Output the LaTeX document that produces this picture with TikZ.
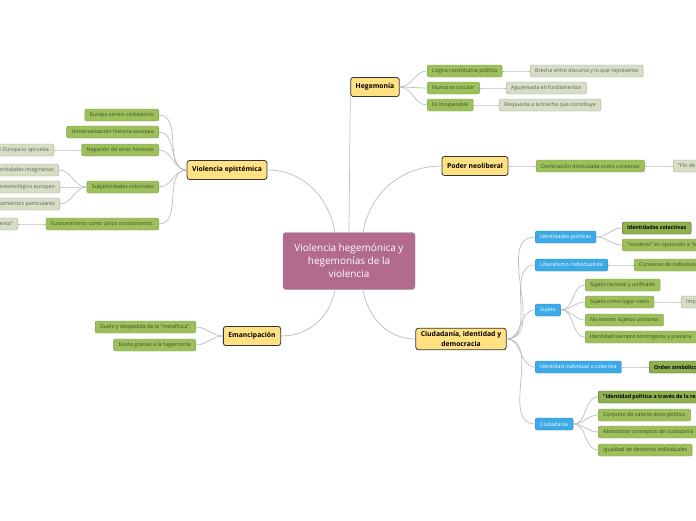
\documentclass[tikz,border=0pt]{standalone}
\usepackage{fontspec}
\setmainfont{Open Sans}
\usetikzlibrary{positioning}

\definecolor{mainfill}{HTML}{B26A8D}
\definecolor{topicfill}{HTML}{FFE184}
\definecolor{leaffill}{HTML}{9DC05C}
\definecolor{leafdraw}{HTML}{7F9D4A}
\definecolor{leaftext}{HTML}{3D4A24}
\definecolor{strongfill}{HTML}{8FB050}
\definecolor{strongdraw}{HTML}{4B5A2C}
\definecolor{notefill}{HTML}{D6DEC6}
\definecolor{notedraw}{HTML}{A5AF95}
\definecolor{notetext}{HTML}{5B6052}
\definecolor{bluefill}{HTML}{3DAAE8}
\definecolor{linkgray}{HTML}{BEBEBE}

\begin{document}
\begin{tikzpicture}[
    x=1pt, y=-1pt,
    main/.style = {rectangle, rounded corners=3pt, minimum width=132pt, minimum height=57pt,
                   align=center, draw=gray!80, fill=mainfill, text=white, font=\fontsize{10}{13}\selectfont},
    topic/.style = {rectangle, rounded corners=2.5pt, minimum height=19pt, inner xsep=5pt,
                    draw=black!80, fill=topicfill, font=\fontsize{6.8}{9.5}\selectfont\bfseries, align=center, thick},
    leaf/.style = {rectangle, rounded corners=2pt, minimum height=12pt, inner xsep=5pt, inner ysep=1pt,
                   draw=leafdraw, fill=leaffill, text=leaftext, font=\fontsize{5.3}{6.5}\selectfont},
    strong/.style = {leaf, draw=strongdraw, fill=strongfill, text=black, font=\fontsize{5.3}{6.5}\selectfont\bfseries},
    note/.style = {leaf, draw=notedraw, fill=notefill, text=notetext},
    blue/.style = {leaf, draw=bluefill!80!black, fill=bluefill, text=white},
    link/.style = {draw=linkgray, line width=0.7pt}
]

\fill[white] (0,0) rectangle (696,520);
\useasboundingbox (0,0) rectangle (696,520);
\clip (0,0) rectangle (696,520);

% Central topic
\node (center) [main] at (349,261) {Violencia hegemónica y\\ hegemonías de la\\ violencia};

% Main branches
\node (hegemonia) [topic] at (375,87) {Hegemonía};
\node (poder) [topic] at (475,166) {Poder neoliberal};
\node (violencia) [topic] at (227,170) {Violencia epistémica};
\node (emancipacion) [topic] at (252,336) {Emancipación};
\node (ciudadania) [topic] at (461,339) {Ciudadanía, identidad y\\ democracia};

% Nodes - Hegemonia
\node (logica) [leaf, anchor=west] at (427,71) {Lógica constitutiva política};
\node (brecha) [note, anchor=west] at (530,71) {Brecha entre discurso y lo que representa};
\node (nunca) [leaf, anchor=west] at (427,88) {Nunca es circular};
\node (agujereada) [note, anchor=west] at (506,88) {Agujereada en fundamentos};
\node (insuperable) [leaf, anchor=west] at (427,105) {Es insuperable};
\node (respuesta) [note, anchor=west] at (499,105) {Respuesta a la brecha que constituye};

% Nodes - Poder neoliberal
\node (dominacion) [leaf, anchor=west] at (536,166) {Dominación disimulada como consenso};
\node (findela) [note, anchor=west] at (673,166) {"Fin de la historia"};

% Nodes - Ciudadania, identidad y democracia
\node (idpol) [blue, anchor=west] at (535,237) {Identidades políticas};
\node (idcol) [strong, anchor=west] at (622,228) {Identidades colectivas};
\node (nosotros) [leaf, anchor=west] at (622,245) {"nosotros" en oposición a "ellos"};
\node (liberal) [blue, anchor=west] at (535,265) {Liberalismo individualista};
\node (consenso) [leaf, anchor=west] at (634,265) {Consenso de individuos};
\node (sujeto) [blue, anchor=west] at (535,310) {Sujeto};
\node (racional) [leaf, anchor=west] at (585,285) {Sujeto racional y unificado};
\node (vacio) [leaf, anchor=west] at (585,302) {Sujeto como lugar vacío};
\node (imposible) [note, anchor=west] at (681,302) {Imposible de llenar};
\node (unitarios) [leaf, anchor=west] at (585,320) {No existen sujetos unitarios};
\node (contingente) [leaf, anchor=west] at (585,337) {Identidad siempre contingente y precaria};
\node (idind) [blue, anchor=west] at (535,367) {Identidad individual o colectiva};
\node (orden) [strong, anchor=west] at (649,367) {Orden simbólico};
\node (ciudad) [blue, anchor=west] at (535,424) {Ciudadanía};
\node (respub) [strong, anchor=west] at (598,397) {"Identidad política a través de la res-publica"};
\node (valores) [leaf, anchor=west] at (598,415) {Conjunto de valores ético-político};
\node (abandonar) [leaf, anchor=west] at (598,432) {Abandonar conceptos de ciudadanía};
\node (igualdad) [leaf, anchor=west] at (598,450) {Igualdad de derechos individuales};

% Nodes - Violencia epistemica
\node (europa) [leaf, anchor=east] at (159,115) {Europa centro civilizatorio};
\node (universal) [leaf, anchor=east] at (159,132) {Universalización historia europea};
\node (negacion) [leaf, anchor=east] at (159,150) {Negación de otras historias};
\node (aprueba) [note, anchor=east] at (54,150) {Solo existe si Europa lo aprueba};
\node (subjetiv) [leaf, anchor=east] at (159,187) {Subjetividades coloniales};
\node (imaginarias) [note, anchor=east] at (59,170) {Identidades imaginarias};
\node (epistemo) [note, anchor=east] at (60,187) {Modelo epistemológico europeo};
\node (particulares) [note, anchor=east] at (60,204) {Pensamientos particulares};
\node (euro) [leaf, anchor=east] at (159,224) {Eurocentrismo como único conocimiento.};
\node (conoc) [note, anchor=east] at (18,224) {"Conocimiento"};

% Nodes - Emancipacion
\node (duelo) [leaf, anchor=east] at (196,327) {Duelo y despedida de la "metafísica".};
\node (existe) [leaf, anchor=east] at (196,345) {Existe gracias a la hegemonía};

% Connectors - central topic
\draw [link] (center.north) -- (hegemonia.south west);
\draw [link] ([xshift=14pt]center.north) to[out=80, in=180] (poder.west);
\draw [link] ([xshift=-14pt]center.north) to[out=100, in=0] (violencia.east);
\draw [link] ([xshift=-14pt]center.south) to[out=-100, in=0] (emancipacion.east);
\draw [link] ([xshift=14pt]center.south) to[out=-80, in=180] (ciudadania.west);

% Connectors - right side
\foreach \a/\b in {hegemonia/logica, hegemonia/nunca, hegemonia/insuperable,
    logica/brecha, nunca/agujereada, insuperable/respuesta,
    poder/dominacion, dominacion/findela,
    ciudadania/idpol, ciudadania/liberal, ciudadania/sujeto, ciudadania/idind, ciudadania/ciudad,
    idpol/idcol, idpol/nosotros, liberal/consenso,
    sujeto/racional, sujeto/vacio, sujeto/unitarios, sujeto/contingente, vacio/imposible,
    idind/orden, ciudad/respub, ciudad/valores, ciudad/abandonar, ciudad/igualdad}
    \draw [link] (\a.east) to[out=0, in=180] (\b.west);

% Connectors - left side
\foreach \a/\b in {violencia/europa, violencia/universal, violencia/negacion, violencia/subjetiv, violencia/euro,
    negacion/aprueba, subjetiv/imaginarias, subjetiv/epistemo, subjetiv/particulares, euro/conoc,
    emancipacion/duelo, emancipacion/existe}
    \draw [link] (\a.west) to[out=180, in=0] (\b.east);

\end{tikzpicture}
\end{document}
